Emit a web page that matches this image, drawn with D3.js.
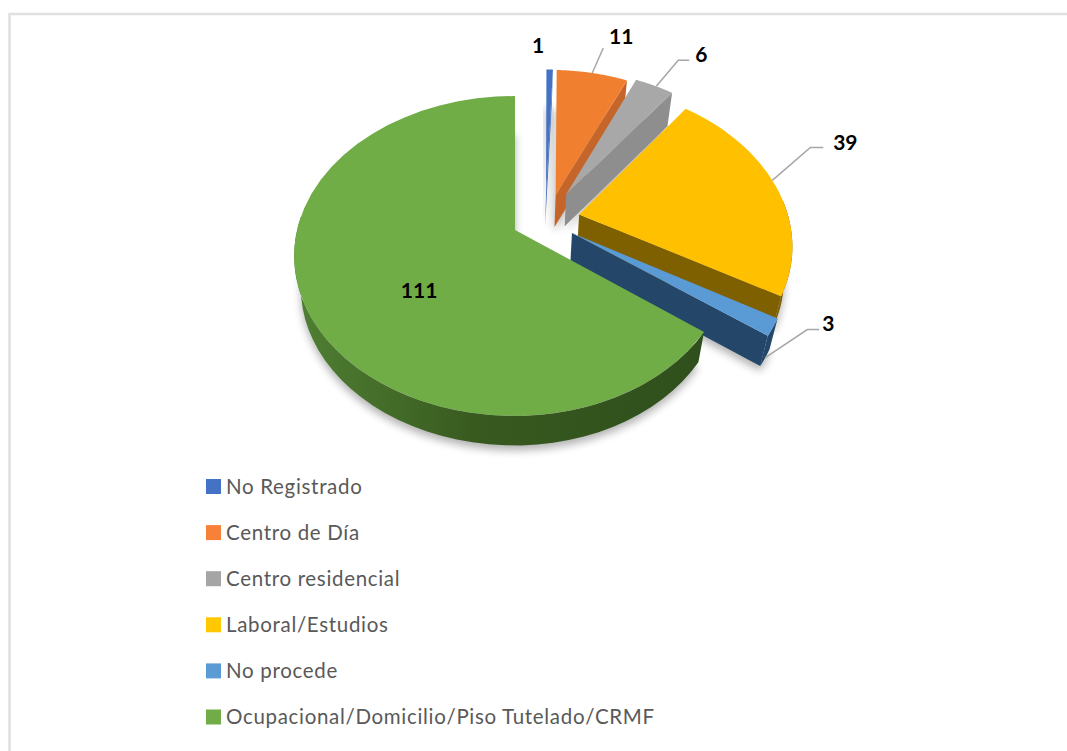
<!DOCTYPE html>
<html>
<head>
<meta charset="utf-8">
<script src="https://cdn.jsdelivr.net/npm/d3@7"></script>
<style>
  html, body { margin: 0; background: #fff; }
  svg { display: block; }
</style>
</head>
<body>
<script>
///////// data /////////
var categories = ['No Registrado', 'Centro de Día', 'Centro residencial', 'Laboral/Estudios', 'No procede', 'Ocupacional/Domicilio/Piso Tutelado/CRMF']
var values = [1, 11, 6, 39, 3, 111]
var labels = ['1', '11', '6', '39', '3', '111']

var faceColors = ['#4472c4', '#f07f30', '#a8a8a8', '#ffc000', '#5b9bd5', '#70ad47']
var wallColors = ['#4068b4', '#c5652a', '#8e8e8e', '#7f6000', '#234669', 'url(#greenWall)']
var legendColors = ['#4472c4', '#f8813a', '#a5a5a5', '#ffc800', '#5b9bd5', '#70ad47']

// how far each slice is pulled out of the pie, a small sideways nudge and a small turn (radians)
var explode = [0.17, 0.17, 0.20, 0.177, 0.16, 0.15]
var nudge = [0.015, 0.025, 0.012, 0, 0, 0]
var turn = [0.026, 0, 0, 0, 0, 0]
// where on the slice rim the leader starts, then elbow and label relative to it
var leaderT = [null, 0.5, 0.55, 0.47, 0.5, null]
var leaderElbow = [null, [11, -25], [22, -26], [38, -33], [42, -28], null]
var leaderEnd = [null, [11, -25], [33, -26], [51, -33], [54, -28], null]
var labelPad = [null, [18, -13], [12, -7], [22, -6], [9, -7], null]

///////// layout /////////
var width = 1067
var height = 751
var persp = 0.1625
var pieCenter = [0.134, -0.068]
var floorScale = 0.97

var xScale = d3.scaleLinear().domain([-1, 0, 1]).range([515 - 218, 515, 515 + 212])
var yScale = d3.scaleLinear().domain([-1, 1]).range([230 - 155.8, 230 + 155.8])
var colorFace = d3.scaleOrdinal().domain(categories).range(faceColors)
var colorWall = d3.scaleOrdinal().domain(categories).range(wallColors)
var legendY = d3.scalePoint().domain(categories).range([486.5, 717])

// flat disc coords -> screen, with a bit of perspective; z=1 is the underside
function project(u, v, z) {
  var w = 1 - persp * v
  var x = xScale(u / w)
  var y = yScale(v / w)
  if (z) {
    x = xScale(0) + (x - xScale(0)) * floorScale
    y = y + 31.5 - 2 * v
  }
  return [x, y]
}

var pie = d3.pie().sort(null).value((d) => d.value)
var slices = pie(categories.map((c, i) => ({ name: c, value: values[i], i: i })))

slices.forEach((s) => {
  var mid = (s.startAngle + s.endAngle) / 2
  var e = explode[s.data.i]
  s.mid = mid
  s.ox = pieCenter[0] + e * Math.sin(mid) + nudge[s.data.i]
  s.oy = pieCenter[1] - e * Math.cos(mid)
  s.startAngle += turn[s.data.i]
  s.endAngle += turn[s.data.i]
})

function rimPoint(s, a, z) {
  return project(s.ox + Math.sin(a), s.oy - Math.cos(a), z)
}

function arcPoints(s, a0, a1, z) {
  return d3.range(0, 41).map((k) => rimPoint(s, a0 + (a1 - a0) * k / 40, z))
}

var line = d3.line()

function outline(s, z) {
  return line([project(s.ox, s.oy, z)].concat(arcPoints(s, s.startAngle, s.endAngle, z))) + 'Z'
}

// walls: the closing radial face and the part of the rim that faces the viewer
function endWall(s) {
  return line([
    project(s.ox, s.oy, 0), rimPoint(s, s.endAngle, 0),
    rimPoint(s, s.endAngle, 1), project(s.ox, s.oy, 1)
  ]) + 'Z'
}

function rimWall(s) {
  var a0 = Math.max(s.startAngle, Math.PI * 0.47)
  var a1 = Math.min(s.endAngle, Math.PI * 1.53)
  if (a1 <= a0) return null
  return line(arcPoints(s, a0, a1, 0).concat(arcPoints(s, a0, a1, 1).reverse())) + 'Z'
}

///////// drawing /////////
var svg = d3.select('body').append('svg').attr('width', width).attr('height', height)

var defs = svg.append('defs')
defs.append('filter').attr('id', 'soft').attr('x', '-20%').attr('y', '-20%').attr('width', '140%').attr('height', '140%')
  .append('feGaussianBlur').attr('stdDeviation', 4)

var greenWall = defs.append('linearGradient').attr('id', 'greenWall')
greenWall.append('stop').attr('offset', '0%').attr('stop-color', '#4f8033')
greenWall.append('stop').attr('offset', '45%').attr('stop-color', '#38591f')
greenWall.append('stop').attr('offset', '100%').attr('stop-color', '#2f4f1c')

// chart frame
svg.append('path')
  .attr('d', line([[width, 14], [9.5, 14], [9.5, height]]))
  .attr('fill', 'none').attr('stroke', '#e0e0e0').attr('stroke-width', 2.5)

// shadows under the slices
svg.append('g').selectAll('path').data(slices).enter().append('path')
  .attr('d', (d) => outline(d, 1))
  .attr('transform', 'translate(0, 5)')
  .attr('fill', '#000').attr('opacity', 0.3)
  .attr('filter', 'url(#soft)')

var sliceG = svg.append('g').selectAll('g').data(slices).enter().append('g')

sliceG.append('path').attr('d', (d) => endWall(d)).attr('fill', (d) => colorWall(d.data.name))
sliceG.filter((d) => rimWall(d) !== null).append('path')
  .attr('d', (d) => rimWall(d)).attr('fill', (d) => colorWall(d.data.name))
sliceG.append('path').attr('d', (d) => outline(d, 0)).attr('fill', (d) => colorFace(d.data.name))

// leaders and value labels
var leaderSlices = slices.filter((d) => leaderT[d.data.i] !== null)

function leaderStart(d) {
  var t = leaderT[d.data.i]
  var a = d.startAngle + (d.endAngle - d.startAngle) * t
  return rimPoint(d, a, d.data.i === 4 ? 1 : 0)
}

svg.append('g').selectAll('path').data(leaderSlices).enter().append('path')
  .attr('d', (d) => {
    var p = leaderStart(d)
    var el = leaderElbow[d.data.i]
    var en = leaderEnd[d.data.i]
    return line([p, [p[0] + el[0], p[1] + el[1]], [p[0] + en[0], p[1] + en[1]]])
  })
  .attr('fill', 'none').attr('stroke', '#a6a6a6').attr('stroke-width', 1.5)

var labelFont = 'Lato, "Open Sans", sans-serif'

function labelPos(d) {
  var i = d.data.i
  if (i === 0) {
    var top = rimPoint(d, d.mid, 0)
    return [top[0] - 7, top[1] - 25]
  }
  if (i === 5) {
    var c = project(d.ox + 0.5 * Math.sin(d.mid), d.oy - 0.5 * Math.cos(d.mid), 0)
    return [c[0] + 5, c[1] + 23]
  }
  var p = leaderStart(d)
  var en = leaderEnd[i]
  var pad = labelPad[i]
  return [p[0] + en[0] + pad[0], p[1] + en[1] + pad[1]]
}

svg.append('g').selectAll('text').data(slices).enter().append('text')
  .attr('x', (d) => labelPos(d)[0])
  .attr('y', (d) => labelPos(d)[1])
  .attr('text-anchor', 'middle')
  .attr('dominant-baseline', 'central')
  .attr('font-family', labelFont)
  .attr('font-weight', 700)
  .attr('font-size', 21)
  .attr('fill', '#000')
  .text((d) => labels[d.data.i])

// legend
var legend = svg.append('g').selectAll('g').data(categories).enter().append('g')
  .attr('transform', (d) => 'translate(206, ' + legendY(d) + ')')

legend.append('rect')
  .attr('y', -7.5).attr('width', 15).attr('height', 15)
  .attr('fill', (d, i) => legendColors[i])

legend.append('text')
  .attr('x', 20).attr('y', 7)
  .attr('font-family', labelFont)
  .attr('font-size', 20.5)
  .attr('letter-spacing', 0.68)
  .attr('fill', '#595959')
  .text((d) => d)
</script>
</body>
</html>
